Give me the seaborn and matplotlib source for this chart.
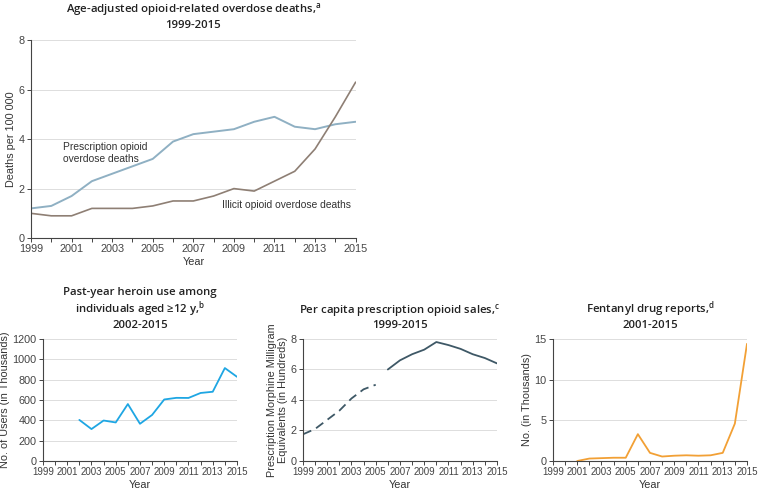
import pandas as pd
import matplotlib
matplotlib.use("Agg")
import matplotlib.pyplot as plt
import seaborn as sns
from matplotlib.ticker import MultipleLocator

# -------------------- DATOS --------------------
years_all = list(range(1999, 2016))
prescription_deaths = [1.2, 1.3, 1.7, 2.3, 2.6, 2.9, 3.2, 3.9, 4.2, 4.3, 4.4, 4.7, 4.9, 4.5, 4.4, 4.6, 4.7]
illicit_deaths = [1.0, 0.9, 0.9, 1.2, 1.2, 1.2, 1.3, 1.5, 1.5, 1.7, 2.0, 1.9, 2.3, 2.7, 3.6, 4.9, 6.3]

heroin_years = list(range(2002, 2016))
heroin_users = [404, 314, 398, 379, 560, 366, 453, 605, 621, 620, 669, 681, 914, 828]

sales_years_early = list(range(1999, 2006))
sales_early = [1.75, 2.1, 2.7, 3.3, 4.1, 4.7, 5.0]
sales_years_late = list(range(2006, 2016))
sales_late = [6.0, 6.6, 7.0, 7.3, 7.8, 7.6, 7.35, 7.0, 6.75, 6.4]

fentanyl_years = list(range(2001, 2016))
fentanyl_reports = [0.0, 0.3, 0.35, 0.4, 0.4, 3.3, 1.0, 0.55, 0.65, 0.7, 0.65, 0.7, 1.0, 4.6, 14.4]

# -------------------- ESTILO --------------------
sns.set_theme(style="ticks")
plt.rcParams['font.family'] = ['Liberation Sans', 'DejaVu Sans']
plt.rcParams['mathtext.default'] = 'regular'
plt.rcParams['axes.edgecolor'] = '#444444'
plt.rcParams['xtick.color'] = '#444444'
plt.rcParams['ytick.color'] = '#444444'
plt.rcParams['text.color'] = '#333333'
plt.rcParams['axes.labelcolor'] = '#333333'

c_presc = '#8fb0c3'
c_illicit = '#8e7f74'
c_heroin = '#1ea6e3'
c_sales = '#3e5866'
c_fent = '#f2a035'

FS = 7.8
title_font = dict(fontsize=8.2, fontweight='semibold', family=['Open Sans', 'DejaVu Sans'], color='#222222')

fig = plt.figure(figsize=(7.62, 4.95), dpi=100)
ax_top = fig.add_axes([0.0407, 0.519, 0.426, 0.40])
ax_h = fig.add_axes([0.0564, 0.0687, 0.2546, 0.2465])
ax_s = fig.add_axes([0.3976, 0.0687, 0.2546, 0.2465])
ax_f = fig.add_axes([0.7257, 0.0687, 0.2546, 0.2465])


def style_axis(ax, ymax, ystep, xfs=FS):
    ax.set_xlim(1999, 2015)
    ax.set_ylim(0, ymax)
    ax.yaxis.set_major_locator(MultipleLocator(ystep))
    ax.xaxis.set_minor_locator(MultipleLocator(1))
    ax.set_xticks(range(1999, 2016, 2))
    ax.grid(axis='y', color='#dddddd', linewidth=0.7)
    ax.set_axisbelow(True)
    for s in ['top', 'right']:
        ax.spines[s].set_visible(False)
    for s in ['left', 'bottom']:
        ax.spines[s].set_linewidth(0.8)
    ax.tick_params(axis='both', which='major', length=3, width=0.7, pad=1.5)
    ax.tick_params(axis='y', labelsize=FS)
    ax.tick_params(axis='x', labelsize=xfs)
    ax.tick_params(axis='x', which='minor', length=3, width=0.7)
    ax.set_xlabel('Year', fontsize=FS, labelpad=2)


# -------------------- GRÁFICA SUPERIOR --------------------
df_top = pd.DataFrame({'Year': years_all, 'Prescription': prescription_deaths, 'Illicit': illicit_deaths})
sns.lineplot(data=df_top, x='Year', y='Prescription', ax=ax_top, color=c_presc, linewidth=1.4)
sns.lineplot(data=df_top, x='Year', y='Illicit', ax=ax_top, color=c_illicit, linewidth=1.2)
style_axis(ax_top, 8, 2)
ax_top.set_ylabel('Deaths per 100 000', fontsize=FS, labelpad=2)
ax_top.set_title('Age-adjusted opioid-related overdose deaths,$^{a}$\n1999-2015',
                 pad=9, linespacing=1.15, **title_font)
ax_top.text(2000.6, 3.9, 'Prescription opioid\noverdose deaths', fontsize=7.4,
            va='top', ha='left', linespacing=1.3, color='#333333')
ax_top.text(2008.4, 1.35, 'Illicit opioid overdose deaths', fontsize=7.4,
            va='center', ha='left', color='#333333')

# -------------------- HEROÍNA --------------------
df_h = pd.DataFrame({'Year': heroin_years, 'Users': heroin_users})
sns.lineplot(data=df_h, x='Year', y='Users', ax=ax_h, color=c_heroin, linewidth=1.3)
style_axis(ax_h, 1200, 200, xfs=7.0)
ax_h.set_ylabel('No. of Users (in Thousands)', fontsize=FS, labelpad=2)
ax_h.set_title('Past-year heroin use among\nindividuals aged \u226512 y,$^{b}$\n2002-2015',
               pad=8, linespacing=1.1, **title_font)

# -------------------- VENTAS --------------------
df_s1 = pd.DataFrame({'Year': sales_years_early, 'Sales': sales_early})
df_s2 = pd.DataFrame({'Year': sales_years_late, 'Sales': sales_late})
sns.lineplot(data=df_s1, x='Year', y='Sales', ax=ax_s, color=c_sales, linewidth=1.3, linestyle=(0, (5, 3)))
sns.lineplot(data=df_s2, x='Year', y='Sales', ax=ax_s, color=c_sales, linewidth=1.3)
style_axis(ax_s, 8, 2, xfs=7.0)
ax_s.set_ylabel('Prescription Morphine Milligram\nEquivalents (in Hundreds)', fontsize=FS,
                labelpad=2, linespacing=1.05)
ax_s.set_title('Per capita prescription opioid sales,$^{c}$\n1999-2015',
               pad=8, linespacing=1.1, **title_font)

# -------------------- FENTANILO --------------------
df_f = pd.DataFrame({'Year': fentanyl_years, 'Reports': fentanyl_reports})
sns.lineplot(data=df_f, x='Year', y='Reports', ax=ax_f, color=c_fent, linewidth=1.3)
style_axis(ax_f, 15, 5, xfs=7.0)
ax_f.set_ylabel('No. (in Thousands)', fontsize=FS, labelpad=2)
ax_f.set_title('Fentanyl drug reports,$^{d}$\n2001-2015',
               pad=8, linespacing=1.1, **title_font)

fig.savefig('out.png', dpi=100)
